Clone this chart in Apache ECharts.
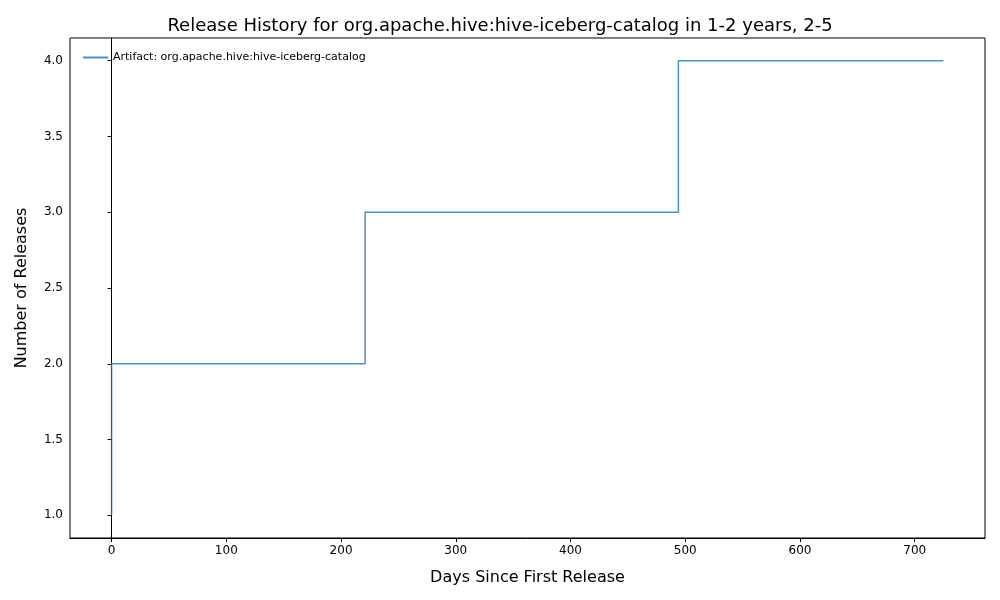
<!DOCTYPE html>
<html>
<head>
<meta charset="utf-8">
<script src="https://cdn.jsdelivr.net/npm/echarts@6/dist/echarts.min.js"></script>
<style>html,body{margin:0;background:#fff}#c{width:1000px;height:600px}</style>
</head>
<body>
<div id="c"></div>
<script>
// step points (days since first release, cumulative releases)
var days = [0, 0, 221, 494, 725];
var releases = [1, 2, 3, 4, 4];
var xTicks = [0, 100, 200, 300, 400, 500, 600, 700];
var yTicks = [1.0, 1.5, 2.0, 2.5, 3.0, 3.5, 4.0];
var seriesName = 'Artifact: org.apache.hive:hive-iceberg-catalog';

var font = 'DejaVu Sans';
var chart = echarts.init(document.getElementById('c'));
chart.setOption({
  backgroundColor: 'white',
  animation: false,
  textStyle: { fontFamily: font },
  title: {
    text: 'Release History for org.apache.hive:hive-iceberg-catalog in 1-2 years, 2-5',
    left: 'center', top: 12,
    textStyle: { fontSize: 18, fontWeight: 'normal', color: '#000', fontFamily: font }
  },
  legend: {
    left: 78, top: 47, itemWidth: 25, itemHeight: 2, itemGap: 8,
    icon: 'rect',
    textStyle: { fontSize: 11, color: '#000', fontFamily: font },
    data: [seriesName]
  },
  grid: { left: 70, right: 15, top: 38, bottom: 62, show: true, borderColor: '#000', borderWidth: 1 },
  xAxis: {
    type: 'value', min: -36.25, max: 761.25,
    name: 'Days Since First Release', nameLocation: 'middle', nameGap: 32,
    nameTextStyle: { fontSize: 16, color: '#000' },
    splitLine: { show: false },
    axisLine: { lineStyle: { color: '#000' } },
    axisTick: { customValues: xTicks, length: 4, lineStyle: { color: '#000' } },
    axisLabel: { customValues: xTicks, color: '#000', fontSize: 12, margin: 7 }
  },
  yAxis: {
    type: 'value', min: 0.85, max: 4.15,
    name: 'Number of Releases', nameLocation: 'middle', nameGap: 40,
    nameTextStyle: { fontSize: 16, color: '#000' },
    splitLine: { show: false },
    axisLine: { show: true, lineStyle: { color: '#000' } },
    axisTick: { show: true, customValues: yTicks, length: 4, lineStyle: { color: '#000' } },
    axisLabel: { customValues: yTicks, color: '#000', fontSize: 12, margin: 7,
      formatter: function (v) { return v.toFixed(1); } }
  },
  series: [{
    name: seriesName,
    type: 'line',
    step: 'end',
    symbol: 'none',
    data: days.map(function (d, i) { return [d, releases[i]]; }),
    lineStyle: { color: 'rgba(31,119,180,0.8)', width: 1.5 },
    itemStyle: { color: 'rgba(31,119,180,0.8)' }
  }]
});
</script>
</body>
</html>
